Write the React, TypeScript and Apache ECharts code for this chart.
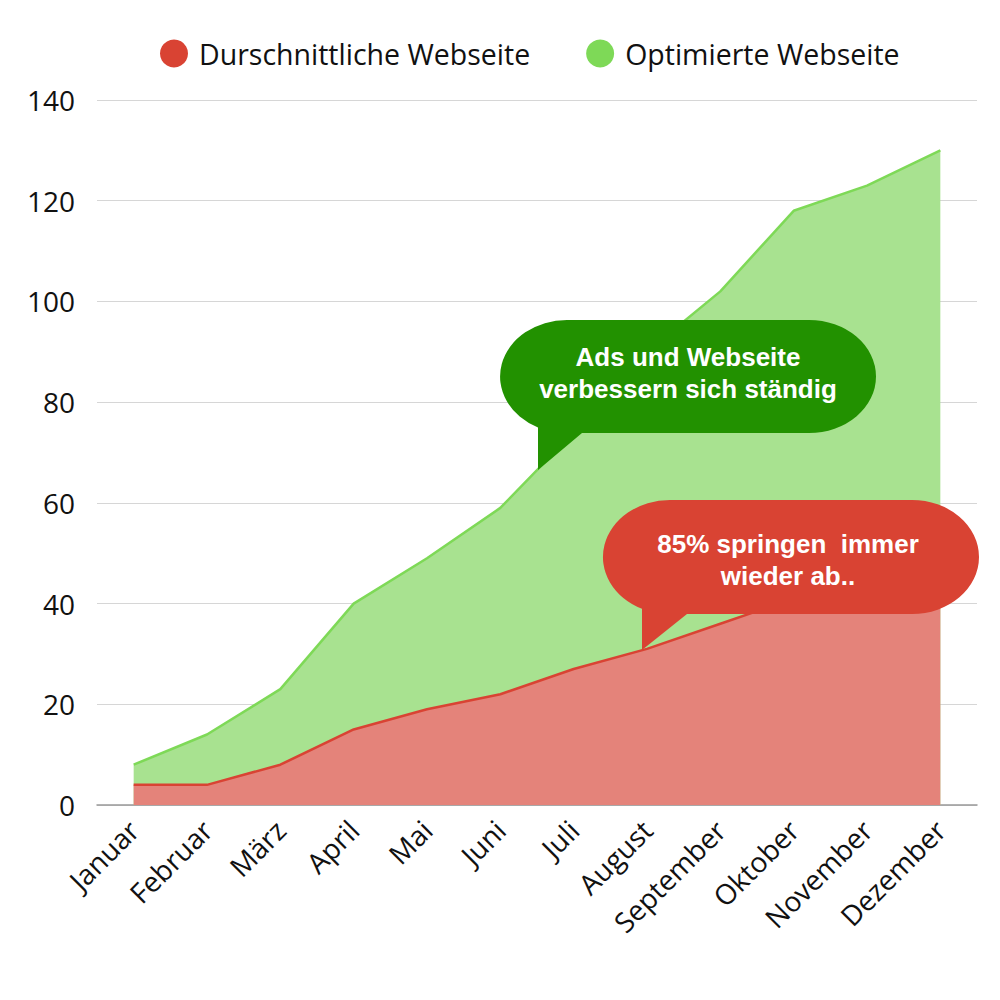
import React, { useEffect, useRef } from "react";
import * as echarts from "echarts";

const months = ["Januar", "Februar", "März", "April", "Mai", "Juni", "Juli", "August", "September", "Oktober", "November", "Dezember"];
const averageSite = [4, 4, 8, 15, 19, 22, 27, 31, 36, 41, 46, 51];
const optimizedSite = [8, 14, 23, 40, 49, 59, 74, 90, 102, 118, 123, 130];
const seriesNames = ["Durschnittliche Webseite", "Optimierte Webseite"];
const greenNote = ["Ads und Webseite", "verbessern sich ständig"];
const redNote = ["85% springen  immer", "wieder ab.."];

const FONT = "'Open Sans', 'Noto Sans', sans-serif";
const NOTE_FONT = "'Liberation Sans', Arial, sans-serif";

const greenBubble =
  "M 567 320 L 809 320 A 67 56.5 0 0 1 809 433 L 582 433 L 538 470 L 538 427.4 A 67 56.5 0 0 1 567 320 Z";
const redBubble =
  "M 670 500 L 912 500 A 67 57 0 0 1 912 614 L 687 614 L 642 650 L 642 608.8 A 67 57 0 0 1 670 500 Z";

echarts.graphic.registerShape("bubbleGreen", echarts.graphic.extendPath(greenBubble, {}));
echarts.graphic.registerShape("bubbleRed", echarts.graphic.extendPath(redBubble, {}));

const noteText = (text: string, x: number, y: number) => ({
  type: "text",
  x,
  y,
  z: 101,
  style: {
    text,
    fill: "#fff",
    font: `bold 26px ${NOTE_FONT}`,
    lineHeight: 28,
    align: "center",
    verticalAlign: "middle",
  },
});

export default function App() {
  const ref = useRef<HTMLDivElement>(null);
  useEffect(() => {
    if (!ref.current) return;
    const chart = echarts.init(ref.current, null, { renderer: "svg" });
    chart.setOption({
      animation: false,
      legend: {
        top: 34,
        left: 155,
        itemGap: 56,
        itemWidth: 28,
        itemHeight: 28,
        icon: "circle",
        textStyle: { fontFamily: FONT, fontSize: 28.5, color: "#111", padding: [0, 0, 0, 6] },
        data: [
          { name: seriesNames[0], itemStyle: { color: "#d94333" } },
          { name: seriesNames[1], itemStyle: { color: "#7ed957" } },
        ],
      },
      grid: { left: 97, right: 23, top: 100, bottom: 195, containLabel: false },
      xAxis: {
        type: "category",
        data: months,
        boundaryGap: true,
        axisLine: { lineStyle: { color: "#999", width: 1.5 } },
        axisTick: { show: false },
        axisLabel: { rotate: 45, fontFamily: FONT, fontSize: 28, color: "#111", margin: 20, interval: 0 },
      },
      yAxis: {
        type: "value",
        min: 0,
        max: 140,
        interval: 20,
        axisLine: { show: false },
        axisTick: { show: false },
        axisLabel: { fontFamily: FONT, fontSize: 28, color: "#111", margin: 22 },
        splitLine: { lineStyle: { color: "#d6d6d6", width: 1 } },
      },
      series: [
        {
          name: seriesNames[1],
          type: "line",
          data: optimizedSite,
          symbol: "none",
          lineStyle: { color: "#7ed957", width: 2.5 },
          itemStyle: { color: "#7ed957" },
          areaStyle: { color: "#a8e290", opacity: 1 },
          z: 2,
        },
        {
          name: seriesNames[0],
          type: "line",
          data: averageSite,
          symbol: "none",
          lineStyle: { color: "#d94333", width: 2.5 },
          itemStyle: { color: "#d94333" },
          areaStyle: { color: "#e4837a", opacity: 1 },
          z: 3,
        },
      ],
      graphic: [
        { type: "bubbleGreen", x: 0, y: 0, z: 100, style: { fill: "#229100" } },
        noteText(greenNote[0], 688, 357),
        noteText(greenNote[1], 688, 389),
        { type: "bubbleRed", x: 0, y: 0, z: 100, style: { fill: "#d94333" } },
        noteText(redNote[0], 788, 544),
        noteText(redNote[1], 788, 576),
      ],
    });
    return () => chart.dispose();
  }, []);
  return <div ref={ref} style={{ width: 1000, height: 1000, position: "absolute", left: 0, top: 0 }} />;
}
